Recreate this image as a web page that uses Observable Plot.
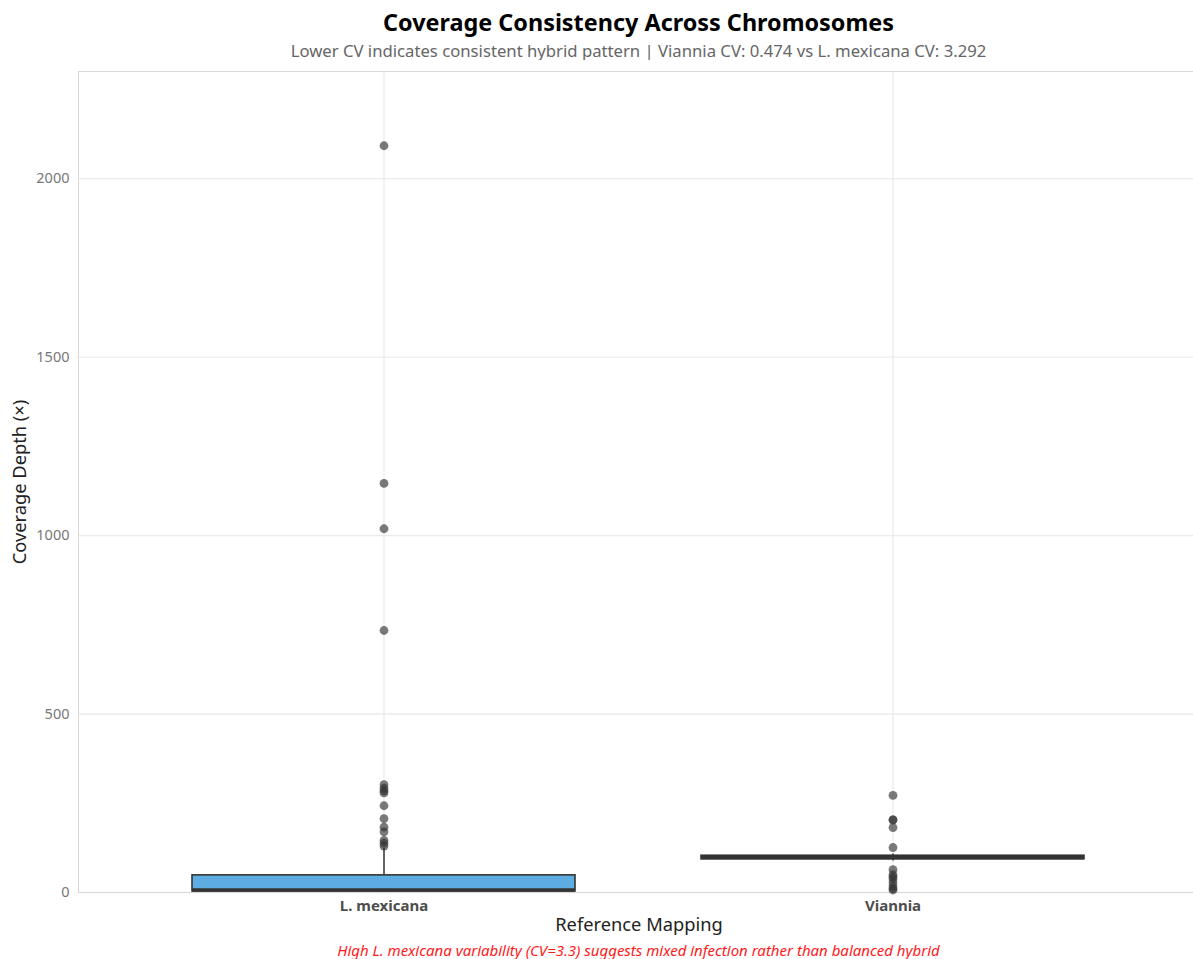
<!DOCTYPE html>
<html>
<head>
<meta charset="utf-8">
<script src="https://cdn.jsdelivr.net/npm/d3@7"></script>
<script src="https://cdn.jsdelivr.net/npm/@observablehq/plot@0.6"></script>
<style>
  html, body { margin: 0; padding: 0; background: #fff; overflow: hidden; }
  #page { position: relative; width: 1193px; height: 959px; overflow: hidden; font-family: "Noto Sans", sans-serif; }
  #inner { position: absolute; left: 0; top: 0; width: 1199px; }
  .hdr { position: absolute; left: 78px; width: 1121px; text-align: center; white-space: nowrap; }
  #title { top: 7px; font-size: 23.4px; font-weight: bold; line-height: 30px; color: #000; }
  #subtitle { top: 40px; font-size: 16.7px; line-height: 22px; color: #666; }
  #chart { position: absolute; left: 0; top: 60px; }
  #caption { top: 939px; font-size: 15px; font-style: italic; line-height: 22px; color: #ff1a1a; }
</style>
</head>
<body>
<div id="page">
  <div id="inner">
    <div id="title" class="hdr">Coverage Consistency Across Chromosomes</div>
    <div id="subtitle" class="hdr">Lower CV indicates consistent hybrid pattern | Viannia CV: 0.474 vs L. mexicana CV: 3.292</div>
    <div id="chart"></div>
    <div id="caption" class="hdr">High L. mexicana variability (CV=3.3) suggests mixed infection rather than balanced hybrid</div>
  </div>
</div>
<script>
// Reference genome groups and their box-plot summaries (coverage depth, ×)
const groups = ["L. mexicana", "Viannia"];
const q1 = [3, 93];
const median = [7, 98];
const q3 = [48, 103];
const whiskerLow = [0, 88];
const whiskerHigh = [124, 108];
const boxFill = ["#5DADE2", "#E74C3C"];

// Chromosomes falling outside the whiskers
const mexicanaOutliers = [2092, 1146, 1019, 734, 302, 292, 285, 279, 243, 207, 183, 170, 146, 138, 130];
const vianniaOutliers = [272, 204, 203, 182, 126, 64, 50, 44, 38, 28, 18, 11, 7];

const yTicks = [0, 500, 1000, 1500, 2000];

const stats = groups.map((g, i) => ({
  group: g, q1: q1[i], median: median[i], q3: q3[i],
  lo: whiskerLow[i], hi: whiskerHigh[i], fill: boxFill[i]
}));
const outliers = [
  ...mexicanaOutliers.map(v => ({group: groups[0], value: v})),
  ...vianniaOutliers.map(v => ({group: groups[1], value: v}))
];

const chart = Plot.plot({
  width: 1199,
  height: 878,
  marginTop: 11,
  marginLeft: 78,
  marginRight: 0,
  marginBottom: 46,
  style: {fontFamily: "Noto Sans, sans-serif", background: "#fff"},
  x: {domain: groups, paddingInner: 0.2475, paddingOuter: 0.2237},
  y: {domain: [0, 2300]},
  marks: [
    Plot.gridY(yTicks, {stroke: "#ebebeb", strokeOpacity: 1, strokeWidth: 1.3}),
    Plot.gridX(groups, {stroke: "#ebebeb", strokeOpacity: 1, strokeWidth: 1.3}),
    Plot.frame({stroke: "#d9d9d9", strokeWidth: 1}),
    Plot.axisY(yTicks, {tickSize: 0, tickPadding: 9, fontSize: 14.5, fill: "#777", tickFormat: d3.format("d"), label: null}),
    Plot.axisX({tickSize: 0, tickPadding: 8, fontSize: 15, fontWeight: "bold", fill: "#4d4d4d", label: null}),
    Plot.text(["Coverage Depth (×)"], {frameAnchor: "left", textAnchor: "middle", rotate: -90, dx: -58, fontSize: 18.3, fill: "#222"}),
    Plot.text(["Reference Mapping"], {frameAnchor: "bottom", textAnchor: "middle", dy: 38, fontSize: 18.3, fill: "#222"}),
    Plot.ruleX(stats, {x: "group", y1: "lo", y2: "hi", stroke: "#333", strokeWidth: 1.5}),
    Plot.rectY(stats, {x: "group", y1: "q1", y2: "q3", fill: "fill", stroke: "#333", strokeWidth: 1.6}),
    Plot.tickY(stats, {x: "group", y: "median", stroke: "#333", strokeWidth: 3.5}),
    Plot.dot(outliers, {x: "group", y: "value", r: 4.4, fill: "#333", fillOpacity: 0.65, stroke: "none"})
  ]
});
document.getElementById("chart").appendChild(chart);
</script>
</body>
</html>
